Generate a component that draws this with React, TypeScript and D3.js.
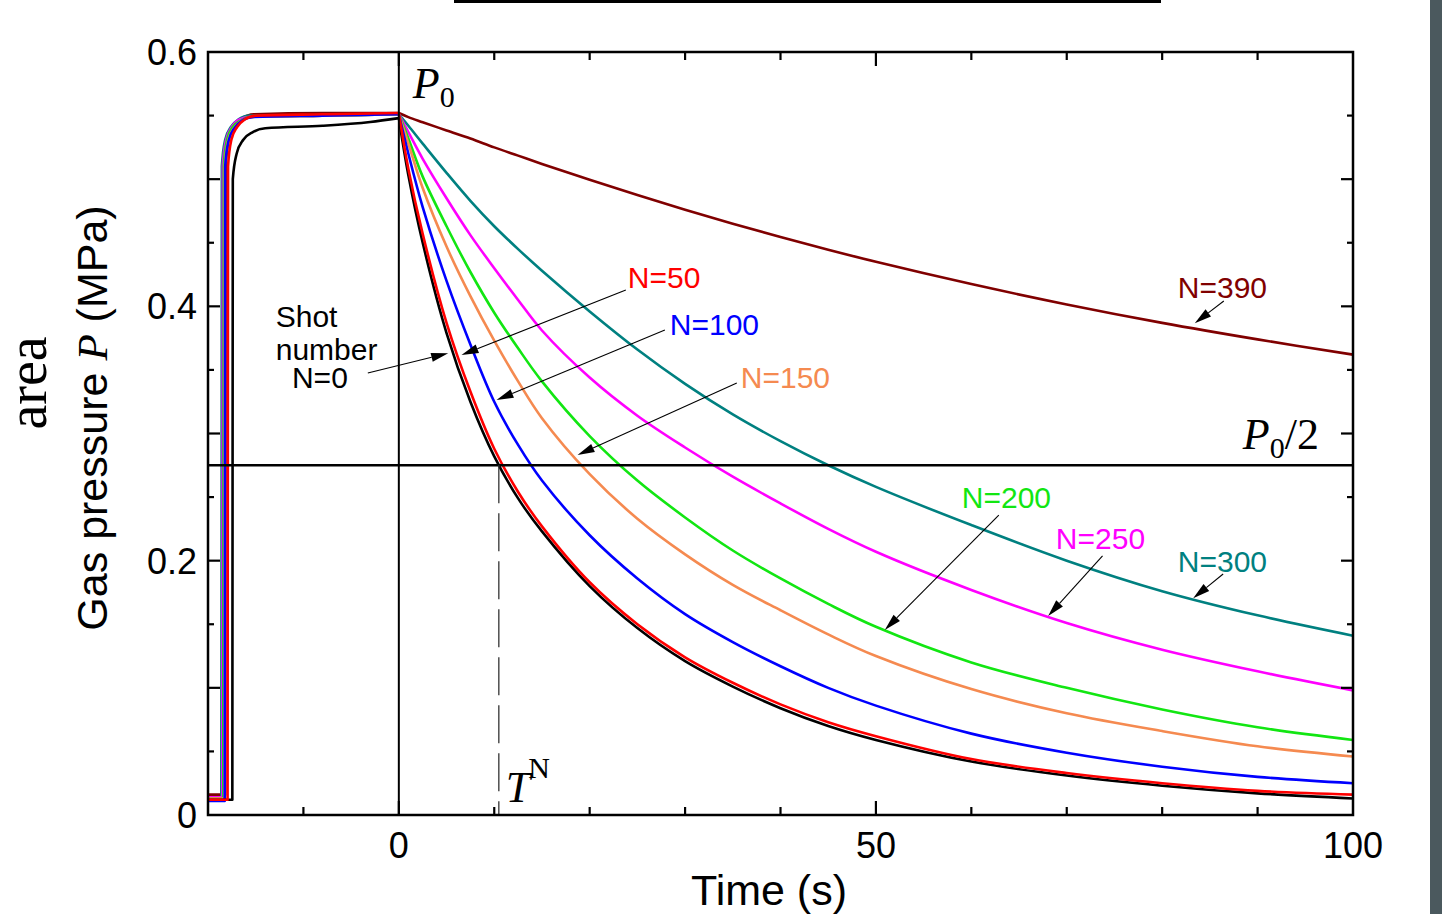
import React from 'react';
import * as d3 from 'd3';

const W = 1442;
const H = 914;

// sampling times after the trigger (s)
const decayTimes = [0, 1, 2.5, 5, 7.5, 10, 12.5, 15, 20, 25, 30, 35, 40, 45, 50, 60, 70, 80, 90, 100];

const shotNames = ['N=0', 'N=50', 'N=100', 'N=150', 'N=200', 'N=250', 'N=300', 'N=390'];
const shotColors = ['#000000', '#ff0000', '#0000ff', '#f58a50', '#12e612', '#ff00ff', '#008080', '#800000'];

// gas pressure (MPa) at decayTimes, one array per shot number
const decayN0 = [0.548, 0.503, 0.450, 0.379, 0.325, 0.282, 0.249, 0.223, 0.180, 0.147, 0.121, 0.101, 0.084, 0.070, 0.059, 0.042, 0.031, 0.023, 0.017, 0.013];
const decayN50 = [0.552, 0.508, 0.457, 0.387, 0.333, 0.288, 0.254, 0.227, 0.183, 0.150, 0.124, 0.104, 0.087, 0.073, 0.062, 0.044, 0.033, 0.025, 0.019, 0.016];
const decayN100 = [0.551, 0.520, 0.478, 0.420, 0.370, 0.325, 0.291, 0.263, 0.220, 0.186, 0.158, 0.136, 0.117, 0.100, 0.086, 0.064, 0.049, 0.038, 0.030, 0.025];
const decayN150 = [0.551, 0.528, 0.493, 0.447, 0.408, 0.373, 0.341, 0.312, 0.268, 0.233, 0.205, 0.181, 0.161, 0.142, 0.125, 0.099, 0.080, 0.066, 0.054, 0.046];
const decayN200 = [0.551, 0.532, 0.502, 0.463, 0.427, 0.395, 0.367, 0.341, 0.298, 0.263, 0.234, 0.208, 0.186, 0.166, 0.148, 0.120, 0.100, 0.083, 0.069, 0.059];
const decayN250 = [0.551, 0.537, 0.516, 0.485, 0.456, 0.430, 0.405, 0.381, 0.344, 0.314, 0.289, 0.266, 0.245, 0.225, 0.207, 0.177, 0.151, 0.130, 0.113, 0.098];
const decayN300 = [0.551, 0.542, 0.528, 0.505, 0.483, 0.463, 0.445, 0.428, 0.396, 0.366, 0.339, 0.315, 0.294, 0.275, 0.258, 0.228, 0.200, 0.176, 0.157, 0.141];
const decayN390 = [0.552, 0.5488, 0.5448, 0.5383, 0.532, 0.525, 0.5185, 0.512, 0.4995, 0.4875, 0.476, 0.465, 0.4545, 0.4445, 0.435, 0.4175, 0.4015, 0.387, 0.374, 0.362];

// filling phase before the trigger: [time, pressure]
const fillN0 = [[-20, 0.012], [-17.45, 0.012], [-17.4, 0.50], [-17.0, 0.52], [-16.3, 0.531], [-15.3, 0.537], [-14, 0.540], [-8, 0.542], [-3, 0.545], [0, 0.548]];
const fillN50 = [[-20, 0.012], [-17.95, 0.012], [-17.9, 0.51], [-17.55, 0.531], [-16.95, 0.541], [-16.15, 0.547], [-14.95, 0.550], [-8, 0.551], [0, 0.552]];
const fillN100 = [[-20, 0.011], [-18.25, 0.011], [-18.2, 0.51], [-17.85, 0.530], [-17.25, 0.540], [-16.45, 0.546], [-15.25, 0.549], [-8, 0.550], [0, 0.551]];
const fillN150 = [[-20, 0.013], [-18.3, 0.013], [-18.25, 0.51], [-17.9, 0.530], [-17.3, 0.540], [-16.5, 0.546], [-15.3, 0.549], [-8, 0.550], [0, 0.551]];
const fillN200 = [[-20, 0.013], [-18.4, 0.013], [-18.35, 0.51], [-18.0, 0.531], [-17.4, 0.541], [-16.6, 0.546], [-15.4, 0.549], [-8, 0.550], [0, 0.551]];
const fillN250 = [[-20, 0.014], [-18.5, 0.014], [-18.45, 0.51], [-18.1, 0.531], [-17.5, 0.541], [-16.7, 0.547], [-15.5, 0.549], [-8, 0.550], [0, 0.551]];
const fillN300 = [[-20, 0.014], [-18.6, 0.014], [-18.55, 0.51], [-18.2, 0.531], [-17.6, 0.541], [-16.8, 0.547], [-15.6, 0.550], [-8, 0.550], [0, 0.551]];
const fillN390 = [[-20, 0.016], [-18.2, 0.016], [-18.15, 0.51], [-17.8, 0.532], [-17.2, 0.542], [-16.4, 0.548], [-15.2, 0.551], [-8, 0.552], [0, 0.552]];

const decayData = [decayN0, decayN50, decayN100, decayN150, decayN200, decayN250, decayN300, decayN390];
const fillData = [fillN0, fillN50, fillN100, fillN150, fillN200, fillN250, fillN300, fillN390];
const drawOrder = [7, 6, 5, 4, 3, 2, 0, 1];

const xTickLabels = [0, 50, 100];
const yTickLabels = [0, 0.2, 0.4, 0.6];

const halfPressure = 0.275; // P0/2
const halfTime = 10.48; // T^N for N=0

// curve labels: text position, arrow start, arrow tip (time, pressure)
const curveLabels = [
  { i: 1, at: [24.0, 0.4144], from: [23.79, 0.4128], to: [6.57, 0.3617] },
  { i: 2, at: [28.4, 0.3775], from: [27.88, 0.3814], to: [10.24, 0.3263] },
  { i: 3, at: [35.84, 0.3358], from: [35.42, 0.3397], to: [18.73, 0.2831] },
  { i: 4, at: [59.0, 0.2414], from: [62.88, 0.2359], to: [50.93, 0.1455] },
  { i: 5, at: [68.86, 0.2092], from: [73.75, 0.2037], to: [68.05, 0.1565] },
  { i: 6, at: [81.64, 0.1911], from: [86.39, 0.1895], to: [83.25, 0.1704] },
  { i: 7, at: [81.64, 0.4066], from: [86.46, 0.4042], to: [83.42, 0.3867] },
];
const shotLabelLines = [
  { text: 'Shot', at: [-12.9, 0.3837] },
  { text: 'number', at: [-12.9, 0.3578] },
  { text: 'N=0', at: [-11.2, 0.3358] },
];
const shotArrow = { from: [-3.25, 0.3476], to: [5.17, 0.3631] };

const SANS = '"Liberation Sans", Arial, sans-serif';
const SERIF = '"Liberation Serif", "Times New Roman", serif';

const x = d3.scaleLinear().domain([-20, 100]).range([208, 1353]);
const y = d3.scaleLinear().domain([0, 0.6]).range([815, 52]);

const fillLine = d3.line<number[]>()
  .x(d => x(d[0]))
  .y(d => y(d[1]))
  .curve(d3.curveMonotoneX);

const decayLine = d3.line<number[]>()
  .x(d => x(d[0]))
  .y(d => y(d[1]))
  .curve(d3.curveCatmullRom.alpha(0.5));

function Arrow({ from, to }: { from: number[]; to: number[] }) {
  const x1 = x(from[0]), y1 = y(from[1]);
  const x2 = x(to[0]), y2 = y(to[1]);
  const dx = x2 - x1, dy = y2 - y1;
  const len = Math.hypot(dx, dy);
  const ux = dx / len, uy = dy / len;
  const hl = 17, hw = 4.5;
  const bx = x2 - ux * hl, by = y2 - uy * hl;
  const pts = [
    [x2, y2],
    [bx - uy * hw, by + ux * hw],
    [bx + uy * hw, by - ux * hw],
  ].map(p => p.join(',')).join(' ');
  return (
    <g>
      <line x1={x1} y1={y1} x2={bx} y2={by} stroke="#000" strokeWidth={1.1} />
      <polygon points={pts} fill="#000" />
    </g>
  );
}

export default function App() {
  const xTicks = d3.range(-10, 100, 10);
  const yTicks = d3.range(1, 12).map(k => k * 0.05);
  const [x0, x1] = x.range();
  const [yb, yt] = y.range();

  return (
    <svg width={W} height={H} style={{ position: 'absolute', left: 0, top: 0, display: 'block', background: '#fff' }}>
      {/* cut-off title underline and window edge */}
      <rect x={454} y={0} width={707} height={3} fill="#000" />
      <rect x={1430} y={0} width={12} height={H} fill="#4b595e" />

      {/* curves */}
      {drawOrder.map(i => (
        <g key={shotNames[i]} fill="none" stroke={shotColors[i]} strokeWidth={2.6} strokeLinejoin="round">
          <path d={fillLine(fillData[i] as number[][]) || ''} />
          <path d={decayLine(decayTimes.map((t, j) => [t, decayData[i][j]])) || ''} />
        </g>
      ))}

      {/* reference lines */}
      <line x1={x(0)} x2={x(0)} y1={yb} y2={yt} stroke="#000" strokeWidth={2} />
      <line x1={x0} x2={x1} y1={y(halfPressure)} y2={y(halfPressure)} stroke="#000" strokeWidth={2.5} />
      <line x1={x(halfTime)} x2={x(halfTime)} y1={y(halfPressure)} y2={yb} stroke="#333" strokeWidth={1.3} strokeDasharray="38 10" />

      {/* frame and ticks */}
      <rect x={x0} y={yt} width={x1 - x0} height={yb - yt} fill="none" stroke="#000" strokeWidth={2.5} />
      {xTicks.map(t => {
        const L = t % 50 === 0 ? 14 : 8;
        return (
          <g key={'xt' + t} stroke="#000" strokeWidth={2.2}>
            <line x1={x(t)} x2={x(t)} y1={yb} y2={yb - L} />
            <line x1={x(t)} x2={x(t)} y1={yt} y2={yt + L} />
          </g>
        );
      })}
      {yTicks.map((v, k) => {
        const L = k % 2 === 1 ? 12 : 6;
        return (
          <g key={'yt' + k} stroke="#000" strokeWidth={2.2}>
            <line x1={x0} x2={x0 + L} y1={y(v)} y2={y(v)} />
            <line x1={x1} x2={x1 - L} y1={y(v)} y2={y(v)} />
          </g>
        );
      })}

      {/* tick labels */}
      {xTickLabels.map(t => (
        <text key={'xl' + t} x={x(t)} y={858} textAnchor="middle" fontFamily={SANS} fontSize={36}>{t}</text>
      ))}
      {yTickLabels.map(v => (
        <text key={'yl' + v} x={197} y={y(v)} dy="0.36em" textAnchor="end" fontFamily={SANS} fontSize={36}>{v}</text>
      ))}

      {/* axis titles */}
      <text x={769} y={905} textAnchor="middle" fontFamily={SANS} fontSize={43}>Time (s)</text>
      <text transform="translate(107,418) rotate(-90)" textAnchor="middle" fontFamily={SANS} fontSize={43}>
        Gas pressure <tspan fontFamily={SERIF} fontStyle="italic">P</tspan> (MPa)
      </text>
      <text transform="translate(46,383) rotate(-90)" textAnchor="middle" fontFamily={SERIF} fontSize={56}>area</text>

      {/* math labels */}
      <text x={x(1.47)} y={y(0.5638)} fontFamily={SERIF} fontSize={44}>
        <tspan fontStyle="italic">P</tspan><tspan fontSize={30} dy={9}>0</tspan>
      </text>
      <text x={x(88.45)} y={y(0.2878)} fontFamily={SERIF} fontSize={44}>
        <tspan fontStyle="italic">P</tspan><tspan fontSize={30} dy={9}>0</tspan><tspan dy={-9}>/2</tspan>
      </text>
      <text x={x(11.2)} y={y(0.0102)} fontFamily={SERIF} fontSize={44}>
        <tspan fontStyle="italic">T</tspan><tspan fontSize={30} dy={-24} dx={-2}>N</tspan>
      </text>

      {/* curve annotations */}
      {curveLabels.map(a => (
        <g key={'lab' + a.i}>
          <Arrow from={a.from} to={a.to} />
          <text x={x(a.at[0])} y={y(a.at[1])} fill={shotColors[a.i]} fontFamily={SANS} fontSize={30}>{shotNames[a.i]}</text>
        </g>
      ))}
      <Arrow from={shotArrow.from} to={shotArrow.to} />
      {shotLabelLines.map(s => (
        <text key={s.text} x={x(s.at[0])} y={y(s.at[1])} fontFamily={SANS} fontSize={30}>{s.text}</text>
      ))}
    </svg>
  );
}
